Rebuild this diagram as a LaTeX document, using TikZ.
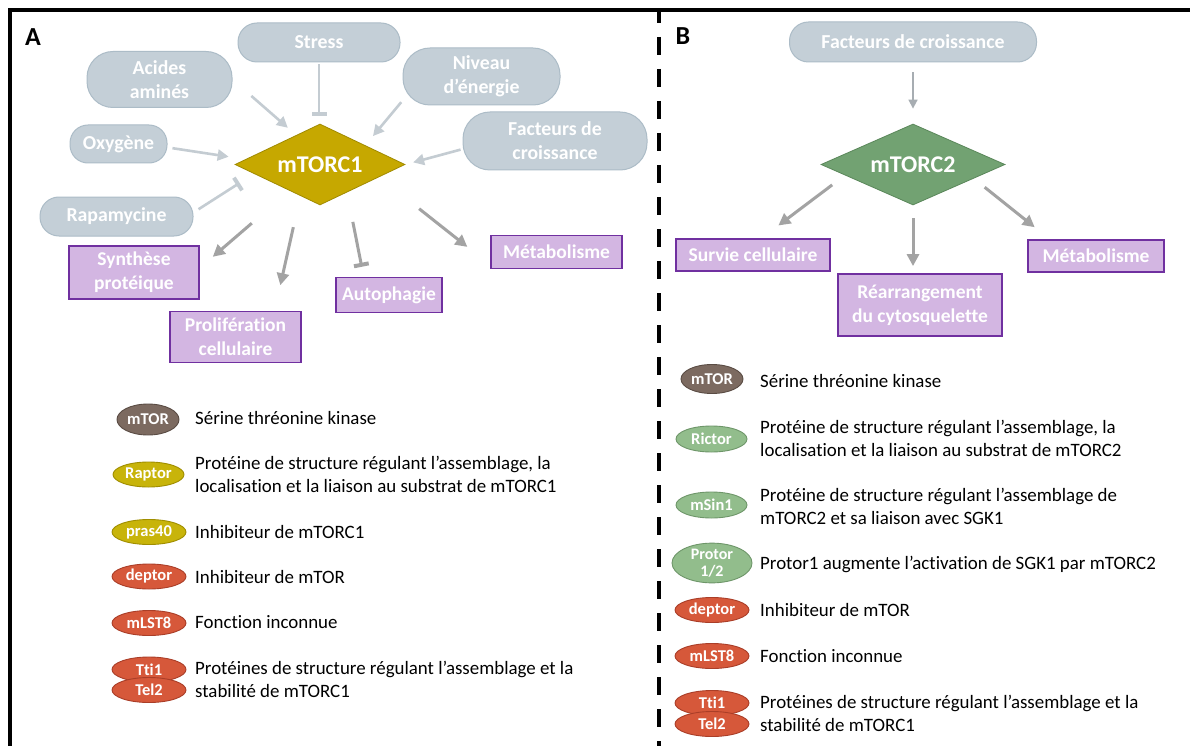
\documentclass[tikz,border=0pt]{standalone}
\usepackage{fontspec}
\setmainfont{Carlito}[Ligatures=NoCommon]
\usetikzlibrary{shapes.geometric,arrows.meta}
\definecolor{pillf}{RGB}{196,207,215}
\definecolor{pilld}{RGB}{172,188,199}
\definecolor{boxf}{RGB}{211,182,226}
\definecolor{boxd}{RGB}{112,48,160}
\definecolor{goldc}{RGB}{198,168,0}
\definecolor{goldd}{RGB}{160,138,0}
\definecolor{mgreen}{RGB}{114,162,114}
\definecolor{mgreend}{RGB}{90,135,90}
\definecolor{lbrown}{RGB}{124,106,96}
\definecolor{lbrownd}{RGB}{90,76,68}
\definecolor{lyellow}{RGB}{200,180,10}
\definecolor{lyellowd}{RGB}{160,142,0}
\definecolor{lred}{RGB}{214,88,58}
\definecolor{lredd}{RGB}{170,62,40}
\definecolor{lgreen}{RGB}{146,189,140}
\definecolor{lgreend}{RGB}{110,150,105}
\definecolor{arrin}{RGB}{196,204,210}
\definecolor{arrout}{RGB}{163,163,163}
\tikzset{
  pill/.style={draw=pilld, line width=1pt, fill=pillf, text=white, align=center, inner sep=0pt,
    font=\bfseries\fontsize{19.8}{24}\selectfont},
  outbox/.style={draw=boxd, line width=1.8pt, fill=boxf, text=white, align=center, inner sep=0pt,
    font=\bfseries\fontsize{19.5}{24}\selectfont},
  hub/.style={diamond, inner sep=0pt, text=white, line width=0.8pt,
    font=\bfseries\fontsize{24}{26}\selectfont},
  leg/.style={ellipse, inner sep=0pt, line width=0.9pt, text=white, align=center,
    minimum width=74pt, minimum height=25pt, font=\bfseries\fontsize{16.5}{17}\selectfont},
  desc/.style={anchor=west, align=left, inner sep=0pt, font=\fontsize{18.9}{23}\selectfont},
  panel/.style={inner sep=0pt, font=\bfseries\fontsize{26}{26}\selectfont},
  inarr/.style={draw=arrin, line width=2.6pt, -{Triangle[length=11pt,width=11pt]}},
  inbar/.style={draw=arrin, line width=2.6pt, -{Bar[width=15pt,line width=4pt]}},
  outarr/.style={draw=arrout, line width=3pt, -{Triangle[length=12pt,width=12pt]}},
  outbar/.style={draw=arrout, line width=3pt, -{Bar[width=15pt,line width=4pt]}},
  thinarr/.style={draw=arrin!85!black, line width=1.6pt, -{Triangle[length=9pt,width=9pt]}},
}
\begin{document}
\begin{tikzpicture}[x=1pt,y=-1pt]
\useasboundingbox (0,0) rectangle (1190,746);
\fill[white] (0,0) rectangle (1190,746);
% frame
\draw[line width=4pt] (10,746) -- (10,10) -- (1190,10);
\draw[line width=4.5pt, dash pattern=on 18pt off 14pt, dash phase=5pt] (659,10) -- (659,746);

% ---------------- Panel A ----------------
\node[panel] (labA) at (33,37) {A};
\node[pill, minimum width=162pt, minimum height=39pt, rounded corners=19pt] (stress) at (319,42.5) {Stress};
\node[pill, minimum width=145pt, minimum height=56pt, rounded corners=26pt] (acides) at (159.5,79.5) {Acides\\aminés};
\node[pill, minimum width=157pt, minimum height=57pt, rounded corners=27pt] (niveau) at (481.5,76.5) {Niveau\\d’énergie};
\node[pill, minimum width=97pt, minimum height=38pt, rounded corners=18pt] (oxy) at (118.5,144) {Oxygène};
\node[pill, minimum width=184pt, minimum height=58pt, rounded corners=27pt] (facA) at (555,141) {Facteurs de\\croissance};
\node[pill, minimum width=153pt, minimum height=39pt, rounded corners=19pt] (rapa) at (116.5,216.5) {Rapamycine};
\node[hub, fill=goldc, draw=goldd, aspect=2.1, minimum width=170pt, minimum height=81pt] (m1) at (320,164.5) {mTORC1};

\node[outbox, minimum width=130pt, minimum height=53pt] (synth) at (134,272.5) {Synthèse\\protéique};
\node[outbox, minimum width=131pt, minimum height=51pt] (prolif) at (235.5,337) {Prolifération\\cellulaire};
\node[outbox, minimum width=106pt, minimum height=35pt] (autoph) at (389,295) {Autophagie};
\node[outbox, minimum width=131pt, minimum height=33pt] (metA) at (556.5,252) {Métabolisme};

\draw[inarr, shorten <=25pt, shorten >=11pt] (acides.east) -- (m1.129);
\draw[inbar, shorten <=2pt, shorten >=8pt] (stress.south) -- (stress.south |- m1.north);
\draw[inarr, shorten <=2pt, shorten >=12pt] (niveau.197) -- (m1.23);
\draw[inarr, shorten <=5pt, shorten >=17pt] (oxy.-4) -- (m1.176);
\draw[inarr, shorten <=2pt, shorten >=8pt] (facA.185) -- (m1.east);
\draw[inbar, shorten <=6pt, shorten >=17pt] (rapa.3) -- (m1.188);

\draw[outarr, shorten <=90pt, shorten >=17pt] (m1.center) -- (synth.4);
\draw[outarr, shorten <=32pt, shorten >=26pt] (m1.238) -- (prolif.34);
\draw[outbar, shorten <=30pt, shorten >=10pt] (m1.-46) -- (autoph.144);
\draw[outarr, shorten <=51pt, shorten >=29pt] (m1.-12) -- (metA.191);

% legend A
\node[leg, fill=lbrown, draw=lbrownd, minimum width=62pt, minimum height=31pt] (a1) at (148,419.5) {mTOR};
\node[desc] (ta1) at (195,418) {Sérine thréonine kinase};
\node[leg, fill=lyellow, draw=lyellowd, minimum width=71pt] (a2) at (148.5,474.5) {Raptor};
\node[desc] (ta2) at (195,474.5) {Protéine de structure régulant l’assemblage, la\\localisation et la liaison au substrat de mTORC1};
\node[leg, fill=lyellow, draw=lyellowd] (a3) at (149,532) {pras40};
\node[desc] (ta3) at (195,532) {Inhibiteur de mTORC1};
\node[leg, fill=lred, draw=lredd] (a4) at (149,576.5) {deptor};
\node[desc] (ta4) at (195,577) {Inhibiteur de mTOR};
\node[leg, fill=lred, draw=lredd] (a5) at (149,623) {mLST8};
\node[desc] (ta5) at (195,622) {Fonction inconnue};
\node[leg, fill=lred, draw=lredd] (a6) at (149,669.5) {Tti1};
\node[leg, fill=lred, draw=lredd] (a7) at (149,690) {Tel2};
\node[desc] (ta6) at (195,679) {Protéines de structure régulant l’assemblage et la\\stabilité de mTORC1};

% ---------------- Panel B ----------------
\node[panel] (labB) at (683,36) {B};
\node[pill, minimum width=247pt, minimum height=40pt, rounded corners=19pt] (facB) at (913,42) {Facteurs de croissance};
\node[hub, fill=mgreen, draw=mgreend, aspect=2.27, minimum width=184pt, minimum height=81pt] (m2) at (913,164.5) {mTORC2};
\node[outbox, minimum width=154pt, minimum height=32pt] (survie) at (753,255) {Survie cellulaire};
\node[outbox, minimum width=164pt, minimum height=62pt] (rearr) at (920,305) {Réarrangement\\du cytosquelette};
\node[outbox, minimum width=136pt, minimum height=32pt] (metB) at (1096,256) {Métabolisme};

\draw[thinarr, shorten <=10pt, shorten >=15pt] (facB.south) -- (m2.north);
\draw[outarr, shorten <=16pt, shorten >=21pt] (m2.189) -- (survie.63);
\draw[outarr, shorten <=13pt, shorten >=7pt] (m2.south) -- (m2.south |- rearr.north);
\draw[outarr, shorten <=14pt, shorten >=19pt] (m2.-13) -- (metB.160);

% legend B
\node[leg, fill=lbrown, draw=lbrownd, minimum width=62pt, minimum height=29pt] (b1) at (712,379) {mTOR};
\node[desc] (tb1) at (760,381) {Sérine thréonine kinase};
\node[leg, fill=lgreen, draw=lgreend, minimum width=71pt, minimum height=26pt] (b2) at (711.5,439) {Rictor};
\node[desc] (tb2) at (760,438.5) {Protéine de structure régulant l’assemblage, la\\localisation et la liaison au substrat de mTORC2};
\node[leg, fill=lgreen, draw=lgreend, minimum width=71pt, minimum height=26pt] (b3) at (711.5,505) {mSin1};
\node[desc] (tb3) at (760,506.5) {Protéine de structure régulant l’assemblage de\\mTORC2 et sa liaison avec SGK1};
\node[leg, fill=lgreen, draw=lgreend, minimum width=80pt, minimum height=36pt, font=\bfseries\fontsize{16}{17}\selectfont] (b4) at (712,563) {Protor\\1/2};
\node[desc] (tb4) at (760,564) {Protor1 augmente l’activation de SGK1 par mTORC2};
\node[leg, fill=lred, draw=lredd] (b5) at (712,610) {deptor};
\node[desc] (tb5) at (760,610) {Inhibiteur de mTOR};
\node[leg, fill=lred, draw=lredd] (b6) at (712,656) {mLST8};
\node[desc] (tb6) at (760,656) {Fonction inconnue};
\node[leg, fill=lred, draw=lredd] (b7) at (712,703) {Tti1};
\node[leg, fill=lred, draw=lredd] (b8) at (712,724) {Tel2};
\node[desc] (tb7) at (760,713.5) {Protéines de structure régulant l’assemblage et la\\stabilité de mTORC1};
\end{tikzpicture}
\end{document}
